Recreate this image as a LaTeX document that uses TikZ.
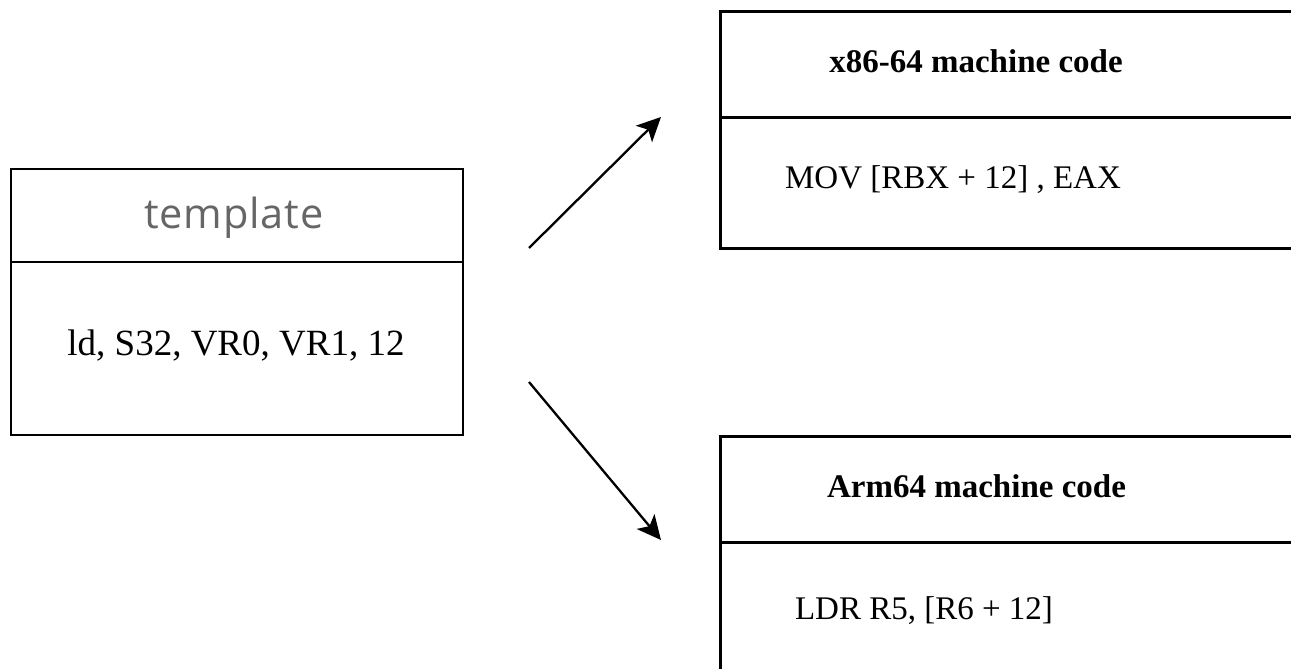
\documentclass[tikz,border=0pt]{standalone}
\usepackage{fontspec}
\setmainfont{Liberation Serif}
\newfontfamily\headsans[LetterSpace=2]{Open Sans}
\usetikzlibrary{arrows.meta}
\definecolor{headgray}{HTML}{666666}
\tikzset{
  cell/.style={draw=black, line width=2.6pt, rectangle, inner sep=0pt},
  bodytext/.style={anchor=base, inner sep=0pt, font=\fontsize{33}{40}\selectfont},
  titletext/.style={anchor=base, inner sep=0pt, font=\fontsize{33}{40}\selectfont\bfseries},
  flow/.style={line width=2.3pt, -{Stealth[length=24pt, width=23pt, inset=6pt]}}
}
\begin{document}
\begin{tikzpicture}[x=1pt, y=-1pt]
  \useasboundingbox (0,0) rectangle (1291,669);
  \clip (0,0) rectangle (1291,669);

  % template box
  \node[cell, minimum width=452pt, minimum height=93pt] (tplhead) at (237,215.5) {};
  \node[cell, minimum width=452pt, minimum height=173pt] (tplbody) at (237,348.5) {};
  \node[anchor=base, inner sep=0pt, text=headgray, font=\headsans\fontsize{41.5}{48}\selectfont] (tpltitle) at (234,228) {template};
  \node[anchor=base, inner sep=0pt, font=\fontsize{37}{44}\selectfont] (tplcode) at (236,355.5) {ld, S32, VR0, VR1, 12};

  % x86-64 box (runs past the right edge)
  \node[cell, minimum width=700pt, minimum height=106pt, anchor=north west] (xhead) at (719,10) {};
  \node[cell, minimum width=700pt, minimum height=131pt, anchor=north west] (xbody) at (719,116) {};
  \node[titletext] (xtitle) at (976,72.5) {x86-64 machine code};
  \node[bodytext] (xcode) at (953,188) {MOV [RBX + 12] , EAX};

  % Arm64 box (runs past the right and bottom edges)
  \node[cell, minimum width=700pt, minimum height=106pt, anchor=north west] (ahead) at (719,435) {};
  \node[cell, minimum width=700pt, minimum height=200pt, anchor=north west] (abody) at (719,541) {};
  \node[titletext] (atitle) at (976.5,497) {Arm64 machine code};
  \node[bodytext] (acode) at (924,619) {LDR R5, [R6 + 12]};

  % translation arrows
  \coordinate (upfrom) at (529,248);
  \coordinate (upto) at (661,117);
  \coordinate (downfrom) at (529,382);
  \coordinate (downto) at (661,540);
  \draw[flow] (upfrom) -- (upto);
  \draw[flow] (downfrom) -- (downto);
\end{tikzpicture}
\end{document}
